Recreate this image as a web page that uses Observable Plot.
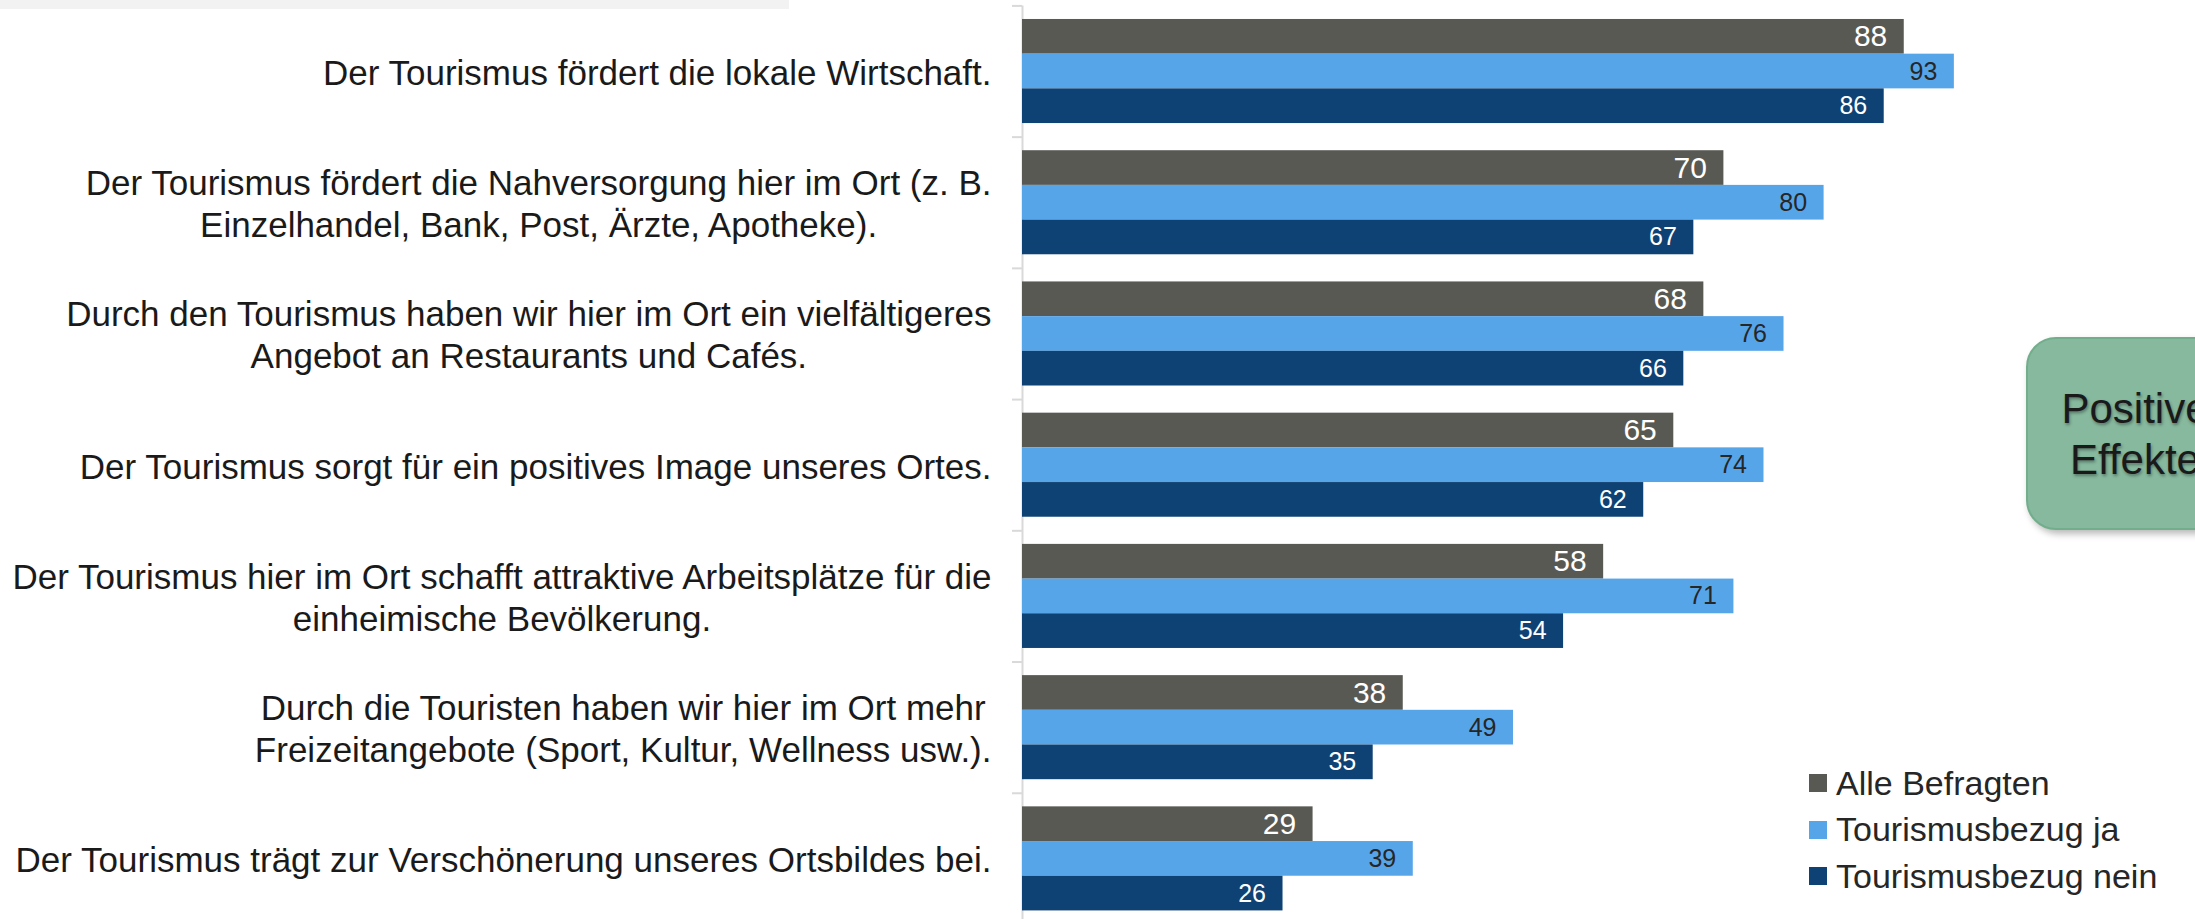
<!DOCTYPE html>
<html>
<head>
<meta charset="utf-8">
<script src="https://cdn.jsdelivr.net/npm/d3@7"></script>
<script src="https://cdn.jsdelivr.net/npm/@observablehq/plot@0.6"></script>
<style>
  html, body { margin: 0; padding: 0; background: #fff; overflow: hidden; }
  #wrap { position: relative; width: 2195px; height: 919px; overflow: hidden; font-family: "Liberation Sans", Arial, sans-serif; }
  #wrap svg { position: absolute; left: 0; top: 0; }
  #band { position: absolute; left: 0; top: 0; width: 789px; height: 9px; background: #f2f2f2; }
  #legend { position: absolute; left: 1809px; top: 759.75px; color: #262626; font-size: 34px; }
  #legend .row { display: flex; align-items: center; height: 46.5px; line-height: 46.5px; white-space: nowrap; }
  #legend .sw { width: 18px; height: 18px; margin-right: 9px; flex: none; }
  #box { position: absolute; left: 2026px; top: 337px; width: 214px; height: 189px; border: 2px solid #72ae8c; border-radius: 30px;
         background: #86b99e; box-shadow: 3px 4px 7px rgba(0,0,0,0.28); display: flex; align-items: center; justify-content: center;
         text-align: center; font-size: 42px; line-height: 51px; color: #1a1a1a; text-shadow: 1px 2px 3px rgba(0,0,0,0.35); }
</style>
</head>
<body>
<div id="wrap">
  <div id="band"></div>
</div>
<script>
const categories = [
  "Der Tourismus fördert die lokale Wirtschaft.",
  "Der Tourismus fördert die Nahversorgung hier im Ort (z. B.\nEinzelhandel, Bank, Post, Ärzte, Apotheke).",
  "Durch den Tourismus haben wir hier im Ort ein vielfältigeres\nAngebot an Restaurants und Cafés.",
  "Der Tourismus sorgt für ein positives Image unseres Ortes.",
  "Der Tourismus hier im Ort schafft attraktive Arbeitsplätze für die\neinheimische Bevölkerung.",
  "Durch die Touristen haben wir hier im Ort mehr\nFreizeitangebote (Sport, Kultur, Wellness usw.).",
  "Der Tourismus trägt zur Verschönerung unseres Ortsbildes bei."
];
const seriesNames = ["Alle Befragten", "Tourismusbezug ja", "Tourismusbezug nein"];
const alleBefragten = [88, 70, 68, 65, 58, 38, 29];
const bezugJa = [93, 80, 76, 74, 71, 49, 39];
const bezugNein = [86, 67, 66, 62, 54, 35, 26];
const seriesValues = [alleBefragten, bezugJa, bezugNein];
const seriesColors = ["#595954", "#56a5e9", "#0f4274"];
const labelColors = ["#ffffff", "#262626", "#ffffff"];
const labelSizes = [30, 25, 25];
const boxText = ["Positive", "Effekte"];

const yOpts = {type: "band", domain: categories, range: [5.4, 924], paddingInner: 0.207, paddingOuter: 0.1035, round: false};
const ys = Plot.scale({y: yOpts});
const bw = ys.bandwidth;
const step = ys.step || (924 - 5.4) / categories.length;
const sub = bw / 3;

const marks = [];
// axis line and ticks between groups
marks.push(Plot.ruleX([0], {stroke: "#d9d9d9", strokeWidth: 2}));
marks.push(Plot.ruleY(categories, {y: d => d, x1: -1, x2: 0, dy: -step / 2, stroke: "#d9d9d9", strokeWidth: 2}));

seriesValues.forEach((vals, i) => {
  const rows = categories.map((c, j) => ({cat: c, value: vals[j], series: seriesNames[i]}));
  marks.push(Plot.barX(rows, {
    y: "cat", x1: 0, x2: "value", fill: seriesColors[i],
    insetTop: i * sub, insetBottom: (2 - i) * sub
  }));
  marks.push(Plot.text(rows, {
    y: "cat", x: "value", text: d => String(d.value), textAnchor: "end",
    dx: -17, dy: (i - 1) * sub, fill: labelColors[i], fontSize: labelSizes[i]
  }));
});

marks.push(Plot.text(categories, {
  y: d => d, x: 0, text: d => d, textAnchor: "end", dx: -31,
  fontSize: 35, lineHeight: 1.2, fill: "#1a1a1a"
}));

const chart = Plot.plot({
  width: 2195,
  height: 919,
  marginTop: 5.4,
  marginBottom: 0,
  marginLeft: 0,
  marginRight: 0,
  x: {domain: [0, 100], range: [1022, 2024], axis: null},
  y: {...yOpts, axis: null},
  style: {fontFamily: "Liberation Sans, Arial, sans-serif", background: "transparent", overflow: "hidden"},
  marks
});

const wrap = document.getElementById("wrap");
wrap.appendChild(chart);

// center multi-line label lines within their right-aligned block
chart.querySelectorAll("text").forEach(t => {
  const spans = t.querySelectorAll("tspan");
  if (spans.length > 1) {
    let maxW = 0;
    spans.forEach(s => { maxW = Math.max(maxW, s.getComputedTextLength()); });
    t.setAttribute("text-anchor", "middle");
    t.style.textAnchor = "middle";
    spans.forEach(s => {
      s.setAttribute("x", -maxW / 2);
      s.style.textAnchor = "middle";
    });
  }
});

// legend
const legend = document.createElement("div");
legend.id = "legend";
seriesNames.forEach((name, i) => {
  const row = document.createElement("div");
  row.className = "row";
  const sw = document.createElement("span");
  sw.className = "sw";
  sw.style.background = seriesColors[i];
  const lab = document.createElement("span");
  lab.textContent = name;
  row.appendChild(sw);
  row.appendChild(lab);
  legend.appendChild(row);
});
wrap.appendChild(legend);

// annotation box
const box = document.createElement("div");
box.id = "box";
box.innerHTML = boxText.join("<br>");
wrap.appendChild(box);
</script>
</body>
</html>
